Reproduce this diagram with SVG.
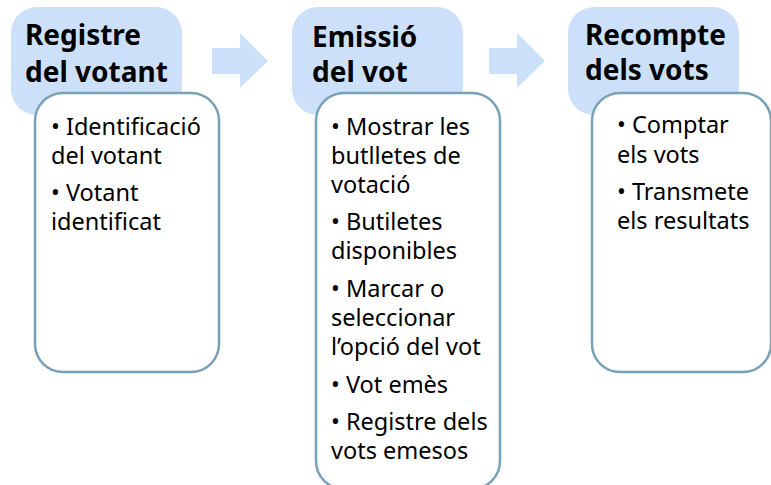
<svg xmlns="http://www.w3.org/2000/svg" width="771" height="485" viewBox="0 0 771 485">
<style>
.hd{fill:#cde0f9;}
.bx{fill:#ffffff;stroke:#7aa2b6;stroke-width:2.5;}
.arr{fill:#cde0f9;}
.h{font-family:"Noto Sans","Liberation Sans",sans-serif;font-weight:bold;font-size:28px;fill:#000;}
.t{font-family:"Noto Sans","Liberation Sans",sans-serif;font-size:23.5px;fill:#000;}
</style>
<rect width="771" height="485" fill="#ffffff"/>
<g id="connectors">
<polygon class="arr" points="212,48 240,48 240,33 268,61 240,88 240,74 212,74"/>
<polygon class="arr" points="489,48 517,48 517,33 545,61 517,88 517,74 489,74"/>
</g>
<g id="node1">
<rect class="hd" x="11" y="7" width="171" height="108" rx="26"/>
<text class="h" x="25" y="45">Registre</text>
<text class="h" x="25" y="82">del votant</text>
<rect class="bx" x="35" y="93" width="184" height="279" rx="28"/>
<text class="t" x="51" y="135">• Identificació</text>
<text class="t" x="51" y="164">del votant</text>
<text class="t" x="51" y="201">• Votant</text>
<text class="t" x="51" y="230">identificat</text>
</g>
<g id="node2">
<rect class="hd" x="292" y="7" width="171" height="108" rx="26"/>
<text class="h" x="312" y="47">Emissió</text>
<text class="h" x="312" y="82">del vot</text>
<rect class="bx" x="316" y="93" width="184" height="396" rx="28"/>
<text class="t" x="331" y="135">• Mostrar les</text>
<text class="t" x="331" y="164">butlletes de</text>
<text class="t" x="331" y="193">votació</text>
<text class="t" x="331" y="230">• Butiletes</text>
<text class="t" x="331" y="259">disponibles</text>
<text class="t" x="331" y="297">• Marcar o</text>
<text class="t" x="331" y="326">seleccionar</text>
<text class="t" x="331" y="355">l’opció del vot</text>
<text class="t" x="331" y="393">• Vot emès</text>
<text class="t" x="331" y="430">• Registre dels</text>
<text class="t" x="331" y="459">vots emesos</text>
</g>
<g id="node3">
<rect class="hd" x="568" y="7" width="171" height="108" rx="26"/>
<text class="h" x="585" y="45">Recompte</text>
<text class="h" x="585" y="80">dels vots</text>
<rect class="bx" x="592" y="93" width="179" height="279" rx="28"/>
<text class="t" x="617" y="133">• Comptar</text>
<text class="t" x="617" y="163">els vots</text>
<text class="t" x="617" y="200">• Transmete</text>
<text class="t" x="617" y="229">els resultats</text>
</g>
</svg>
